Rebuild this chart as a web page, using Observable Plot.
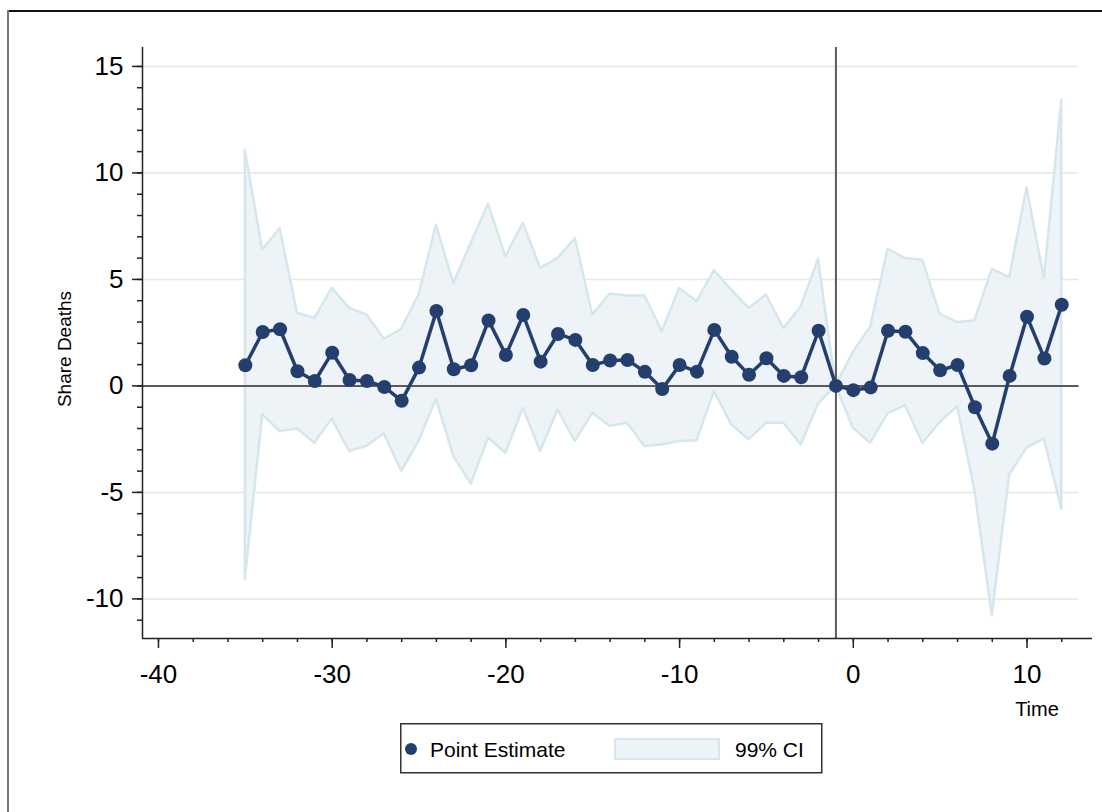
<!DOCTYPE html>
<html>
<head>
<meta charset="utf-8">
<script src="https://cdn.jsdelivr.net/npm/d3@7"></script>
<script src="https://cdn.jsdelivr.net/npm/@observablehq/plot@0.6"></script>
<style>
  body { margin: 0; background: #fff; font-family: "Liberation Sans", Arial, sans-serif; }
  #wrap { position: relative; width: 1102px; height: 812px; overflow: hidden; background: #fff; }
  #frameTop { position: absolute; left: 7px; top: 10px; width: 1095px; height: 2px; background: #111; }
  #frameLeft { position: absolute; left: 7px; top: 10px; width: 2px; height: 802px; background: #777; }
  #chart { position: absolute; left: 0; top: 0; }
  #overlay { position: absolute; left: 0; top: 0; pointer-events: none; }
</style>
</head>
<body>
<div id="wrap">
  <div id="chart"></div>
  <div id="frameTop"></div>
  <div id="frameLeft"></div>
  <svg id="overlay" width="1102" height="812" font-family="Liberation Sans, Arial, sans-serif"></svg>
</div>
<script>
// ---- data ----
const time = [-35,-34,-33,-32,-31,-30,-29,-28,-27,-26,-25,-24,-23,-22,-21,
              -20,-19,-18,-17,-16,-15,-14,-13,-12,-11,-10,-9,-8,-7,-6,-5,-4,-3,-2,-1,
              0,1,2,3,4,5,6,7,8,9,10,11,12];
const estimate = [0.97,2.53,2.66,0.69,0.23,1.56,0.28,0.23,-0.05,-0.70,0.86,3.52,0.78,0.97,3.07,
                  1.45,3.33,1.14,2.44,2.16,0.98,1.19,1.22,0.66,-0.15,0.98,0.67,2.63,1.37,0.52,1.30,0.47,0.41,2.59,0,
                  -0.20,-0.07,2.59,2.54,1.54,0.73,0.98,-1.00,-2.71,0.47,3.25,1.29,3.81];
const ciUpper = [11.06,6.38,7.39,3.41,3.17,4.58,3.64,3.33,2.19,2.66,4.27,7.55,4.81,6.69,8.53,
                 6.06,7.63,5.52,5.99,6.92,3.33,4.31,4.22,4.22,2.55,4.58,3.95,5.41,4.50,3.64,4.27,2.70,3.72,5.95,0,
                 1.58,2.76,6.41,5.98,5.90,3.36,2.98,3.05,5.47,5.08,9.29,5.05,13.40];
const ciLower = [-9.10,-1.36,-2.14,-2.02,-2.69,-1.56,-3.08,-2.84,-2.25,-4.02,-2.61,-0.62,-3.31,-4.61,-2.45,
                 -3.16,-1.05,-3.08,-1.13,-2.61,-1.28,-1.91,-1.75,-2.84,-2.77,-2.61,-2.58,-0.27,-1.83,-2.53,-1.75,-1.75,-2.77,-0.85,0,
                 -1.98,-2.69,-1.31,-0.92,-2.69,-1.73,-0.97,-4.90,-10.80,-4.19,-2.92,-2.49,-5.80];

const xMajorTicks = [-40,-30,-20,-10,0,10];
const xMinorTicks = [-40,-38,-36,-34,-32,-30,-28,-26,-24,-22,-20,-18,-16,-14,-12,-10,-8,-6,-4,-2,0,2,4,6,8,10,12];
const yMajorTicks = [-10,-5,0,5,10,15];
const yMinorTicks = [-11,-10,-9,-8,-7,-6,-5,-4,-3,-2,-1,0,1,2,3,4,5,6,7,8,9,10,11,12,13,14,15];
const gridValues = [-10,-5,5,10,15];
const refPeriod = -1;
const xDomain = [-40.92, 13.77];
const yDomain = [-11.86, 15.89];
const gridEnd = 13;

const navy = "#243f6e";
const ciFill = "#edf3f6";
const ciStroke = "#d6e7ec";

const rows = time.map((t, i) => ({t, est: estimate[i], hi: ciUpper[i], lo: ciLower[i]}));

const chart = Plot.plot({
  width: 1102,
  height: 812,
  marginLeft: 142,
  marginRight: 10,
  marginTop: 47,
  marginBottom: 174,
  style: {fontFamily: "Liberation Sans, Arial, sans-serif", color: "#000", background: "transparent"},
  x: {domain: xDomain},
  y: {domain: yDomain},
  marks: [
    Plot.ruleY(gridValues, {x1: xDomain[0], x2: gridEnd, stroke: "#e6e6e6", strokeWidth: 1.5}),
    Plot.areaY(rows, {x: "t", y1: "lo", y2: "hi", fill: ciFill, stroke: ciStroke, strokeWidth: 2.5}),
    Plot.ruleY([0], {x1: xDomain[0], x2: gridEnd, stroke: "#5a5a5a", strokeWidth: 2}),
    Plot.ruleX([refPeriod], {stroke: "#5a5a5a", strokeWidth: 2}),
    Plot.line(rows, {x: "t", y: "est", stroke: navy, strokeWidth: 3.5}),
    Plot.dot(rows, {x: "t", y: "est", r: 7, fill: navy}),
    // axes
    Plot.ruleX([xDomain[0]], {stroke: "#222", strokeWidth: 1.5}),
    Plot.ruleY([yDomain[0]], {stroke: "#222", strokeWidth: 1.5}),
    Plot.axisY(yMinorTicks, {tickSize: 5, tickFormat: () => "", label: null, stroke: "#222", strokeWidth: 1.5}),
    Plot.axisY(yMajorTicks, {tickSize: 10, tickPadding: 9, fontSize: 26, tickFormat: d => String(d), label: null, stroke: "#222", strokeWidth: 1.5}),
    Plot.axisX(xMinorTicks, {tickSize: 4, tickFormat: () => "", label: null, stroke: "#222", strokeWidth: 1.5}),
    Plot.axisX(xMajorTicks, {tickSize: 10, tickPadding: 16, fontSize: 26, tickFormat: d => String(d), label: null, stroke: "#222", strokeWidth: 1.5})
  ]
});
document.getElementById("chart").appendChild(chart);

// titles and legend (non-data text)
const ov = document.getElementById("overlay");
ov.innerHTML = `
  <text transform="translate(71,349) rotate(-90)" text-anchor="middle" font-size="19" fill="#000">Share Deaths</text>
  <text x="1037" y="716" text-anchor="middle" font-size="20" fill="#000">Time</text>
  <rect x="400.75" y="723.75" width="421" height="49" fill="#fff" stroke="#333" stroke-width="1.5"></rect>
  <circle cx="411" cy="749" r="6" fill="${navy}"></circle>
  <text x="430" y="757" font-size="21" fill="#000">Point Estimate</text>
  <rect x="615" y="739" width="104" height="20" fill="${ciFill}" stroke="${ciStroke}" stroke-width="2"></rect>
  <text x="735" y="757" font-size="21" fill="#000">99% CI</text>
`;
</script>
</body>
</html>
